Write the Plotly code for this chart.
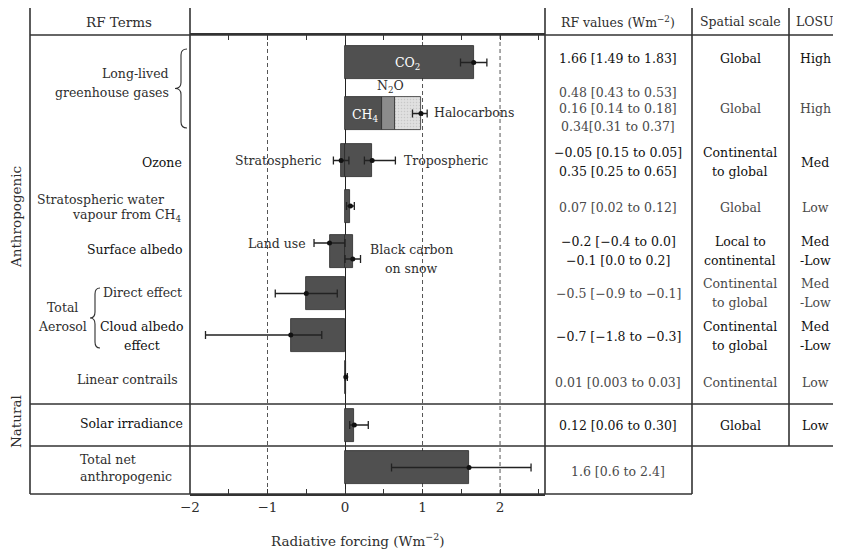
import plotly.graph_objects as go

# ---------------- data ----------------
row_keys = ["co2", "llghg", "ozone", "strat_h2o", "surf_albedo",
            "aer_direct", "aer_cloud", "contrails", "solar", "total"]

comp_names = ["CO2", "CH4", "N2O", "Halocarbons", "Stratospheric ozone", "Tropospheric ozone",
              "Stratospheric water vapour", "Land use", "Black carbon on snow",
              "Aerosol direct effect", "Cloud albedo effect", "Linear contrails",
              "Solar irradiance", "Total net anthropogenic"]
comp_rows = ["co2", "llghg", "llghg", "llghg", "ozone", "ozone", "strat_h2o",
             "surf_albedo", "surf_albedo", "aer_direct", "aer_cloud", "contrails",
             "solar", "total"]
comp_values = [1.66, 0.48, 0.16, 0.34, -0.05, 0.35, 0.07, -0.2, 0.1, -0.5, -0.7, 0.01, 0.12, 1.6]

err_names = ["CO2", "Long-lived GHG", "Stratospheric ozone", "Tropospheric ozone",
             "Stratospheric water vapour", "Land use", "Black carbon on snow",
             "Aerosol direct effect", "Cloud albedo effect", "Linear contrails",
             "Solar irradiance", "Total net anthropogenic"]
err_rows = ["co2", "llghg", "ozone", "ozone", "strat_h2o", "surf_albedo", "surf_albedo",
            "aer_direct", "aer_cloud", "contrails", "solar", "total"]
err_mid = [1.66, 0.98, -0.05, 0.35, 0.07, -0.2, 0.1, -0.5, -0.7, 0.01, 0.12, 1.6]
err_low = [1.49, 0.87, -0.15, 0.25, 0.02, -0.4, 0.0, -0.9, -1.8, 0.003, 0.06, 0.6]
err_high = [1.83, 1.06, 0.05, 0.65, 0.12, 0.0, 0.2, -0.1, -0.3, 0.03, 0.30, 2.4]

rf_value_lines = [["1.66 [1.49 to 1.83]"],
                  ["0.48 [0.43 to 0.53]", "0.16 [0.14 to 0.18]", "0.34[0.31 to 0.37]"],
                  ["−0.05 [0.15 to 0.05]", "0.35 [0.25 to 0.65]"],
                  ["0.07 [0.02 to 0.12]"],
                  ["−0.2 [−0.4 to 0.0]", "−0.1 [0.0 to 0.2]"],
                  ["−0.5 [−0.9 to −0.1]"],
                  ["−0.7 [−1.8 to −0.3]"],
                  ["0.01 [0.003 to 0.03]"],
                  ["0.12 [0.06 to 0.30]"],
                  ["1.6 [0.6 to 2.4]"]]
spatial_lines = [["Global"], ["Global"], ["Continental", "to global"], ["Global"],
                 ["Local to", "continental"], ["Continental", "to global"],
                 ["Continental", "to global"], ["Continental"], ["Global"], []]
losu_lines = [["High"], ["High"], ["Med"], ["Low"], ["Med", "-Low"], ["Med", "-Low"],
              ["Med", "-Low"], ["Low"], ["Low"], []]

tick_vals = [-2, -1, 0, 1, 2]
tick_text = ["−2", "−1", "0", "1", "2"]
minor_step = 0.5

# ---------------- layout / style ----------------
FONT = "DejaVu Serif"
FS = 12.5
TXT = "#2e2e2e"
DARK = "#111111"
LIGHT = "#4a4a4a"
LINE = "#333333"

OFF = 8                      # page body margin of the browser
W, H = 841 - OFF, 552 - OFF
PL, PR, PT, PB = 190, 545, 35, 494          # plot area in page pixels
L, R, T, B = PL - OFF, W - (PR - OFF), PT - OFF, H - (PB - OFF)
PW, PH = PR - PL, PB - PT

row_center = dict(co2=62.5, llghg=113.5, ozone=160.5, strat_h2o=206, surf_albedo=251,
                  aer_direct=293.5, aer_cloud=335, contrails=377, solar=425, total=467.5)
table_center = dict(co2=58, llghg=109, ozone=162, strat_h2o=207, surf_albedo=251,
                    aer_direct=293, aer_cloud=336, contrails=382, solar=425, total=471)
table_spacing = dict(llghg=17)
row_emph = dict(co2=True, llghg=False, ozone=True, strat_h2o=False, surf_albedo=True,
                aer_direct=False, aer_cloud=True, contrails=False, solar=True, total=False)
err_offset = {"Land use": -8, "Black carbon on snow": 8}
BAR_W = 33

comp_color = {"N2O": "#8c8c8c", "Halocarbons": "#dcdcdc"}
DEFAULT_BAR = "#505050"


def bx(px):
    return (px - PL) / PW


def by(py):
    return (PB - py) / PH


fig = go.Figure()

# bars
for name, row, val in zip(comp_names, comp_rows, comp_values):
    col = comp_color.get(name, DEFAULT_BAR)
    marker = dict(color=col, line=dict(color="#2a2a2a", width=0.8))
    if name == "Halocarbons":
        marker["pattern"] = dict(shape=".", fgcolor="#b0b0b0", bgcolor="#e0e0e0", size=3, solidity=0.2)
    fig.add_trace(go.Bar(x=[val], y=[row_center[row]], orientation="h", width=BAR_W,
                         marker=marker, name=name, showlegend=False, hoverinfo="x+name"))

# error bars
for name, row, m, lo, hi in zip(err_names, err_rows, err_mid, err_low, err_high):
    fig.add_trace(go.Scatter(
        x=[m], y=[row_center[row] + err_offset.get(name, 0)], mode="markers",
        marker=dict(size=5, color=DARK), name=name, showlegend=False, cliponaxis=False,
        error_x=dict(type="data", symmetric=False, array=[hi - m], arrayminus=[m - lo],
                     color="#222222", thickness=1.3, width=4)))

shapes = []
# dashed reference lines
for xv in [-1, 1, 2]:
    shapes.append(dict(type="line", xref="x", yref="paper", x0=xv, x1=xv, y0=0, y1=1,
                       line=dict(color="#555555", width=1, dash="4px,3px"), layer="below"))

# table lines (page pixel segments)
segs = [(30, 7, 190, 7), (545, 7, 841, 7), (30, 35, 841, 35), (30, 404, 841, 404),
        (30, 446, 841, 446), (30, 494, 692, 494),
        (30, 7, 30, 494), (190, 7, 190, 494), (545, 7, 545, 494), (692, 7, 692, 494),
        (789, 7, 789, 446)]
for x0, y0, x1, y1 in segs:
    shapes.append(dict(type="line", xref="paper", yref="paper", x0=bx(x0), x1=bx(x1),
                       y0=by(y0), y1=by(y1), line=dict(color=LINE, width=1.6)))


def brace(x_end, x_body, x_tip, y0, y1, r=6):
    ym = (y0 + y1) / 2
    p = lambda x, y: f"{bx(x):.5f},{by(y):.5f}"
    return (f"M{p(x_end, y0)} Q{p(x_body, y0)} {p(x_body, y0 + r)} L{p(x_body, ym - r)} "
            f"Q{p(x_body, ym)} {p(x_tip, ym)} Q{p(x_body, ym)} {p(x_body, ym + r)} "
            f"L{p(x_body, y1 - r)} Q{p(x_body, y1)} {p(x_end, y1)}")


for args in [(187, 181, 175, 49, 128), (100, 95, 90, 288, 348)]:
    shapes.append(dict(type="path", xref="paper", yref="paper", path=brace(*args),
                       line=dict(color=TXT, width=1.1)))

anns = []


def txt(s, x, y, anchor="center", color=TXT, size=FS, **kw):
    anns.append(dict(text=s, x=bx(x), y=by(y), xref="paper", yref="paper", xanchor=anchor,
                     yanchor="middle", showarrow=False,
                     font=dict(family=FONT, size=size, color=color), **kw))


# headers
txt("RF Terms", 119, 22, size=13.5)
txt("RF values (Wm<sup>−2</sup>)", 618, 22)
txt("Spatial scale", 740, 22)
txt("LOSU", 815, 22)

# side labels
txt("Anthropogenic", 16, 217, size=13.5, textangle=-90)
txt("Natural", 16, 422, size=13.5, textangle=-90)

# row labels
txt("Long-lived", 171, 73, "right")
txt("greenhouse gases", 171, 92, "right")
txt("Ozone", 184, 162, "right", color=DARK)
txt("Stratospheric water", 35, 199, "left")
txt("vapour from CH<sub>4</sub>", 183, 216, "right")
txt("Surface albedo", 184, 250, "right", color=DARK)
txt("Direct effect", 184, 292, "right")
txt("Total", 62, 307)
txt("Aerosol", 62, 326)
txt("Cloud albedo", 186, 326, "right", color=DARK)
txt("effect", 142, 345, color=DARK)
txt("Linear contrails", 180, 379, "right")
txt("Solar irradiance", 131, 423, color=DARK)
txt("Total net", 78, 459, "left")
txt("anthropogenic", 78, 476, "left")

# labels on plot
txt("CO<sub>2</sub>", 407, 63, color="white")
txt("N<sub>2</sub>O", 390, 86)
txt("CH<sub>4</sub>", 365, 115, color="white")
txt("Halocarbons", 432, 113, "left")
txt("Stratospheric", 323, 160, "right")
txt("Tropospheric", 402, 160, "left")
txt("Land use", 308, 243, "right")
txt("Black carbon", 411, 250)
txt("on snow", 411, 268)

# table body
for key, rv, sp, lo in zip(row_keys, rf_value_lines, spatial_lines, losu_lines):
    c = table_center[key]
    col = DARK if row_emph[key] else LIGHT
    for lines, xc in [(rv, 618), (sp, 740), (lo, 815)]:
        n = len(lines)
        s = table_spacing.get(key, 18.5)
        for i, line in enumerate(lines):
            txt(line, xc, c + (i - (n - 1) / 2) * s, color=col)

# axis title
txt("Radiative forcing (Wm<sup>−2</sup>)", 357, 540, size=13.5)

fig.update_layout(
    width=W, height=H, margin=dict(l=L, r=R, t=T, b=B),
    paper_bgcolor="white", plot_bgcolor="white",
    barmode="relative", bargap=0, showlegend=False,
    shapes=shapes, annotations=anns,
    font=dict(family=FONT, size=FS, color=TXT),
    xaxis=dict(range=[-2, 2.58], tickvals=tick_vals, ticktext=tick_text, ticks="inside",
               ticklen=5, tickcolor=LINE, showline=True, linecolor=LINE, linewidth=1.6,
               mirror="ticks", showgrid=False, zeroline=True, zerolinecolor="#222222",
               zerolinewidth=1.3, tickfont=dict(family=FONT, size=13.5, color=TXT),
               minor=dict(ticks="inside", ticklen=5, tickcolor=LINE, dtick=minor_step,
                          tick0=0, showgrid=False),
               fixedrange=True),
    yaxis=dict(range=[PB, PT], visible=False, fixedrange=True),
)

fig.write_html("out.html")
